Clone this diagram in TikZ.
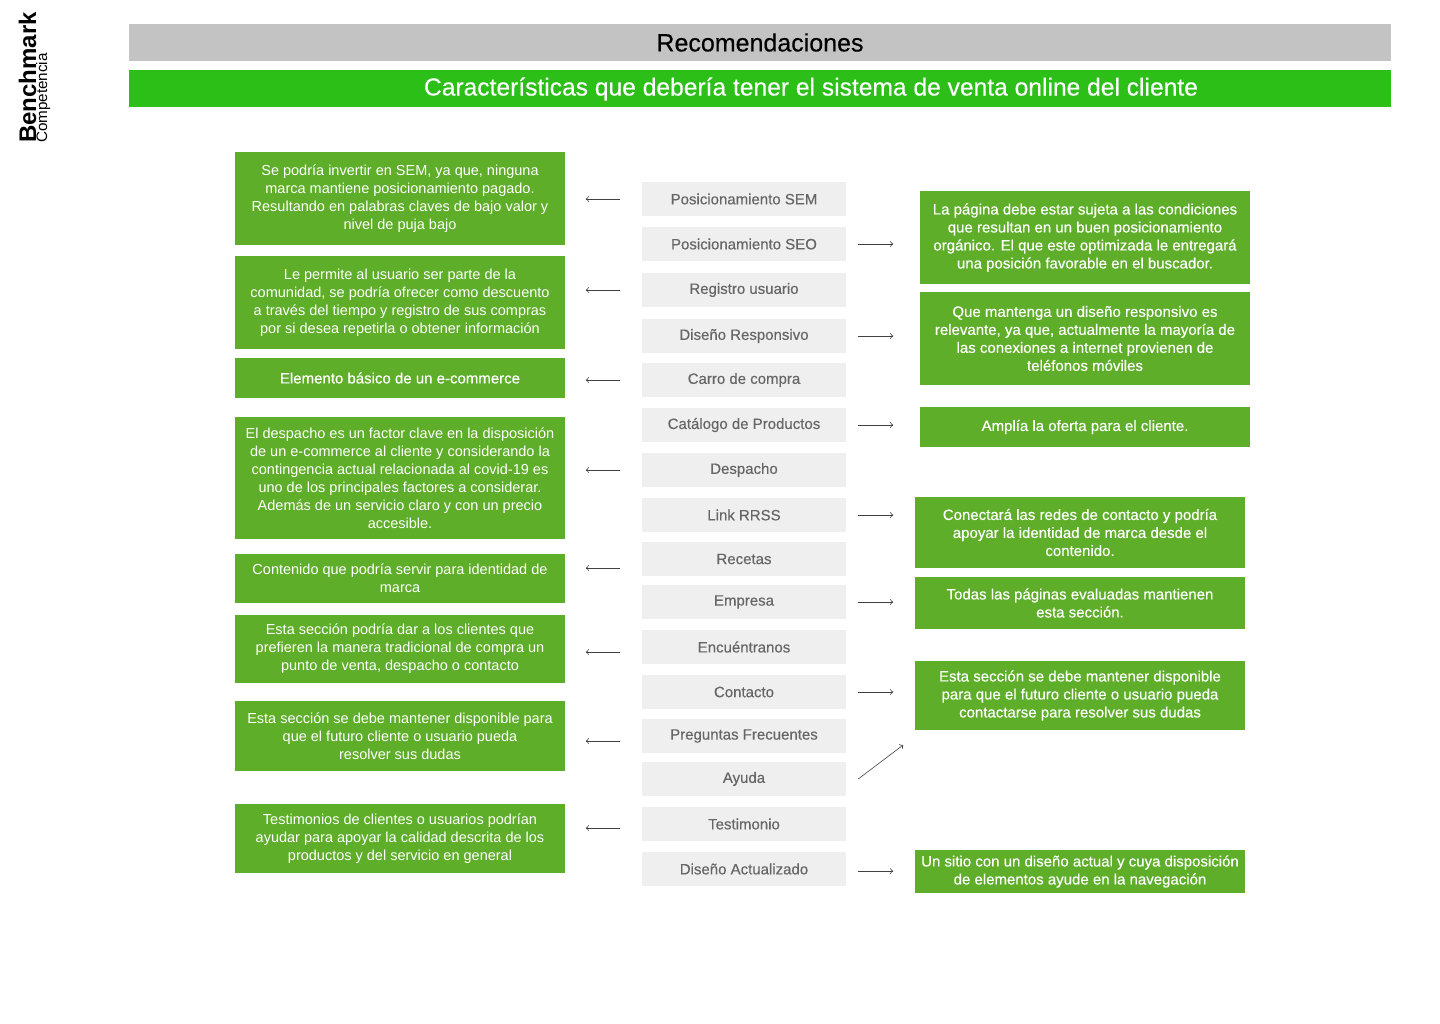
\documentclass[tikz,border=0pt]{standalone}
\usepackage{fontspec}
\setmainfont{Liberation Sans}
\newfontfamily\medfont[FakeBold=0.35]{Liberation Sans}
\usepackage{xcolor}
\usetikzlibrary{arrows.meta}

\definecolor{boxgreen}{RGB}{94,174,41}
\definecolor{titlegreen}{RGB}{43,191,23}
\definecolor{headgray}{RGB}{195,195,195}
\definecolor{itemgray}{RGB}{239,239,239}
\definecolor{itemtext}{RGB}{102,102,102}

\tikzset{
	note/.style={fill=boxgreen, text=white, align=center, minimum width=330pt, inner sep=0pt, font=\fontsize{14.5}{18}\selectfont},
	rnote/.style={note, font=\medfont\fontsize{15}{18}\selectfont},
	item/.style={fill=itemgray, text=itemtext, minimum width=204pt, minimum height=34pt, inner sep=0pt, font=\medfont\fontsize{15}{18}\selectfont},
	arr/.style={draw=black!75, line width=0.6pt, -{To[length=3pt,width=6pt]}}
}

\begin{document}
\begin{tikzpicture}[x=1pt,y=-1pt]

\useasboundingbox (0,0) rectangle (1440,1024);

% side title
\node[rotate=90, anchor=base west, inner sep=0pt, font=\bfseries\fontsize{24}{28}\selectfont] (bench) at (36,143) {Benchmark};
\node[rotate=90, anchor=base west, inner sep=0pt, font=\fontsize{15.2}{17}\selectfont] (comp) at (47,143) {Competencia};

% headers
\node[fill=headgray, minimum width=1262pt, minimum height=37pt, inner sep=0pt, font=\medfont\fontsize{25}{28}\selectfont] (head) at (760,42.5) {Recomendaciones};
\node[fill=titlegreen, minimum width=1262pt, minimum height=37pt, inner sep=0pt] (bar) at (760,88.5) {};
\node[text=white, inner sep=0pt, font=\medfont\fontsize{24.6}{28}\selectfont] (title) at (811,89) {Características que debería tener el sistema de venta online del cliente};

% middle column
\foreach \nm/\y/\txt in {sem/199/Posicionamiento SEM, seo/244/Posicionamiento SEO, reg/290/Registro usuario, resp/336/Diseño Responsivo, carro/380/Carro de compra, cat/425/Catálogo de Productos, desp/470/Despacho, link/515/Link RRSS, rec/559/Recetas, emp/602/Empresa, encu/647/Encuéntranos, cont/692/Contacto, preg/736/Preguntas Frecuentes, ayuda/779/Ayuda, test/824/Testimonio, act/869/Diseño Actualizado}{
	\node[item] (\nm) at (744,\y) {\txt};
}

% left notes
\node[note, minimum height=93pt] (nsem) at (400,198.5) {Se podría invertir en SEM, ya que, ninguna\\marca mantiene posicionamiento pagado.\\Resultando en palabras claves de bajo valor y\\nivel de puja bajo};
\node[note, minimum height=93pt] (nreg) at (400,302.5) {Le permite al usuario ser parte de la\\comunidad, se podría ofrecer como descuento\\a través del tiempo y registro de sus compras\\por si desea repetirla o obtener información};
\node[note, minimum height=40pt, font=\medfont\fontsize{15}{18}\selectfont] (ncarro) at (400,378) {Elemento básico de un e-commerce};
\node[note, minimum height=122pt] (ndesp) at (400,478) {El despacho es un factor clave en la disposición\\de un e-commerce al cliente y considerando la\\contingencia actual relacionada al covid-19 es\\uno de los principales factores a considerar.\\Además de un servicio claro y con un precio\\accesible.};
\node[note, minimum height=49pt] (nrec) at (400,578.5) {Contenido que podría servir para identidad de\\marca};
\node[note, minimum height=68pt] (nencu) at (400,649) {Esta sección podría dar a los clientes que\\prefieren la manera tradicional de compra un\\punto de venta, despacho o contacto};
\node[note, minimum height=70pt] (npreg) at (400,736) {Esta sección se debe mantener disponible para\\que el futuro cliente o usuario pueda\\resolver sus dudas};
\node[note, minimum height=69pt] (ntest) at (400,838.5) {Testimonios de clientes o usuarios podrían\\ayudar para apoyar la calidad descrita de los\\productos y del servicio en general};

% right notes
\node[rnote, minimum height=93pt] (nseo) at (1085,237.5) {La página debe estar sujeta a las condiciones\\que resultan en un buen posicionamiento\\orgánico. El que este optimizada le entregará\\una posición favorable en el buscador.};
\node[rnote, minimum height=93pt] (nresp) at (1085,338.5) {Que mantenga un diseño responsivo es\\relevante, ya que, actualmente la mayoría de\\las conexiones a internet provienen de\\teléfonos móviles};
\node[rnote, minimum height=40pt] (ncat) at (1085,427) {Amplía la oferta para el cliente.};
\node[rnote, minimum height=71pt] (nlink) at (1080,532.5) {Conectará las redes de contacto y podría\\apoyar la identidad de marca desde el\\contenido.};
\node[rnote, minimum height=52pt] (nemp) at (1080,603) {Todas las páginas evaluadas mantienen\\esta sección.};
\node[rnote, minimum height=69pt] (ncont) at (1080,695.5) {Esta sección se debe mantener disponible\\para que el futuro cliente o usuario pueda\\contactarse para resolver sus dudas};
\node[rnote, minimum height=43pt] (nact) at (1080,871.5) {Un sitio con un diseño actual y cuya disposición\\de elementos ayude en la navegación};

% arrows
\foreach \nm/\dy in {sem/0, reg/0, carro/0, desp/0, rec/9, encu/5, preg/5, test/4}{
	\draw[arr] (\nm.west) ++(-22,\dy) -- ++(-34,0);
}
\foreach \nm/\dy in {seo/0, resp/0, cat/0, link/0, emp/0, cont/0, act/2}{
	\draw[arr] (\nm.east) ++(12,\dy) -- ++(35,0);
}
\draw[arr] (ayuda.east) ++(12,0) -- ++(45,-34);

\end{tikzpicture}
\end{document}
